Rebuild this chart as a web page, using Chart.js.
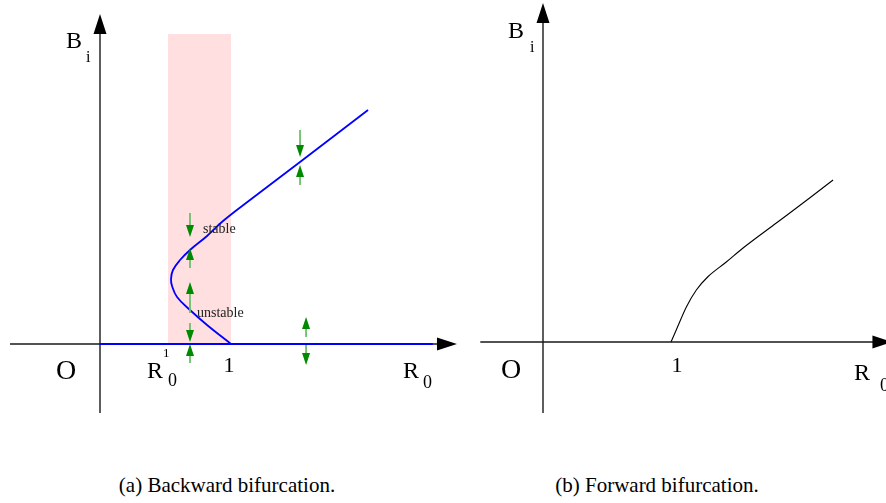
<!DOCTYPE html>
<html>
<head>
<meta charset="utf-8">
<script src="https://cdn.jsdelivr.net/npm/chart.js@4/dist/chart.umd.min.js"></script>
<style>
  html, body { margin: 0; padding: 0; background: #fff; }
  #wrap { position: relative; width: 886px; height: 503px; overflow: hidden; }
  canvas { position: absolute; top: 0; }
  #left { left: 0; }
  #right { left: 443px; }
  .caption {
    position: absolute; top: 475px; margin: 0;
    font-family: "Liberation Serif", "DejaVu Serif", serif;
    font-size: 21px; line-height: 21px; white-space: nowrap;
    transform: translateX(-50%);
  }
</style>
</head>
<body>
<div id="wrap">
  <canvas id="left" width="470" height="420"></canvas>
  <canvas id="right" width="443" height="420"></canvas>
  <p class="caption" style="left:227px">(a) Backward bifurcation.</p>
  <p class="caption" style="left:657px">(b) Forward bifurcation.</p>
</div>
<script>
// backward bifurcation branch (R0, B)
const backwardR0 = [1.0, 0.817, 0.687, 0.588, 0.550, 0.542, 0.557, 0.611, 0.687, 0.817, 0.939, 1.145, 1.527, 2.046];
const backwardB  = [0,   0.19,  0.34,  0.47,  0.58,  0.65,  0.74,  0.84,  0.94,  1.08,  1.23,  1.44,  1.82,  2.34];

// disease free equilibrium B = 0
const trivialR0 = [0, 2.54];
const trivialB  = [0, 0];

// bistable window R0^1 < R0 < 1
const bandR0  = [0.519, 1.0];
const bandTop = [3.10, 3.10];

// stability arrows: x position, tail, head
const arrowR0   = [0.687, 0.687, 0.687, 0.687, 0.687, 1.527, 1.527, 1.573, 1.573];
const arrowFrom = [1.31,  0.76,  0.31,  0.21, -0.19,  2.14,  1.59,  0.07, -0.01];
const arrowTo   = [1.07,  0.96,  0.62,  0.02,  0.00,  1.87,  1.79,  0.27, -0.21];

// forward bifurcation branch (R0, B)
const forwardR0 = [1.0, 1.041, 1.12, 1.198, 1.29, 1.432, 1.563, 1.823, 2.083, 2.266];
const forwardB  = [0,   0.12,  0.35, 0.52,  0.655, 0.80, 0.94,  1.19,  1.44,  1.62];

const pts = (xs, ys) => xs.map((v, i) => ({ x: v, y: ys[i] }));
const SERIF = '"Liberation Serif", "DejaVu Serif", serif';

// axes with arrow heads, green stability arrows and the hand placed labels
const sketchPlugin = {
  id: 'sketch',
  beforeDatasetsDraw(chart, args, opts) {
    const { ctx, scales: { x, y } } = chart;
    const x0 = x.getPixelForValue(0), y0 = y.getPixelForValue(0);
    const xa = x.getPixelForValue(opts.xAxis[0]), xb = x.getPixelForValue(opts.xAxis[1]);
    const ya = y.getPixelForValue(opts.yAxis[0]), yb = y.getPixelForValue(opts.yAxis[1]);
    const L = 20, W = 6.5;
    ctx.save();
    ctx.strokeStyle = '#1a1a1a';
    ctx.fillStyle = '#000';
    ctx.lineWidth = 1.4;
    ctx.beginPath();
    ctx.moveTo(xa, y0); ctx.lineTo(xb - L + 2, y0);
    ctx.moveTo(x0, ya); ctx.lineTo(x0, yb + L - 2);
    ctx.stroke();
    ctx.beginPath();
    ctx.moveTo(xb, y0); ctx.lineTo(xb - L, y0 - W); ctx.lineTo(xb - L, y0 + W); ctx.closePath();
    ctx.moveTo(x0, yb); ctx.lineTo(x0 - W, yb + L); ctx.lineTo(x0 + W, yb + L); ctx.closePath();
    ctx.fill();
    ctx.restore();
  },
  afterDatasetsDraw(chart, args, opts) {
    if (!opts.arrows) return;
    const { ctx, scales: { x, y } } = chart;
    const { r, from, to } = opts.arrows;
    const H = 12, W = 4;
    ctx.save();
    r.forEach((v, i) => {
      const px = x.getPixelForValue(v);
      const p1 = y.getPixelForValue(from[i]);
      const p2 = y.getPixelForValue(to[i]);
      const dir = p2 > p1 ? 1 : -1;
      ctx.strokeStyle = '#6cbf6c';
      ctx.lineWidth = 1.8;
      ctx.beginPath();
      ctx.moveTo(px, p1); ctx.lineTo(px, p2 - dir * H);
      ctx.stroke();
      ctx.fillStyle = '#008a00';
      ctx.beginPath();
      ctx.moveTo(px, p2);
      ctx.lineTo(px - W, p2 - dir * H);
      ctx.lineTo(px + W, p2 - dir * H);
      ctx.closePath();
      ctx.fill();
    });
    ctx.restore();
  },
  afterDraw(chart, args, opts) {
    const { ctx } = chart;
    ctx.save();
    opts.labels.forEach(l => {
      ctx.font = l.s + 'px ' + SERIF;
      ctx.fillStyle = l.c || '#000';
      ctx.textAlign = l.a || 'left';
      ctx.textBaseline = 'alphabetic';
      ctx.fillText(l.t, l.x, l.y);
    });
    ctx.restore();
  }
};

function baseOptions(xr, yr, sketch) {
  return {
    responsive: false,
    animation: false,
    events: [],
    layout: { padding: 0 },
    scales: {
      x: { type: 'linear', display: false, min: xr[0], max: xr[1] },
      y: { type: 'linear', display: false, min: yr[0], max: yr[1] }
    },
    plugins: { legend: { display: false }, tooltip: { enabled: false }, sketch }
  };
}

// (a) backward bifurcation
new Chart(document.getElementById('left'), {
  type: 'scatter',
  data: {
    datasets: [
      {
        data: pts(backwardR0, backwardB), showLine: true, tension: 0.4,
        borderColor: '#0000ff', borderWidth: 1.8, pointRadius: 0
      },
      {
        data: pts(trivialR0, trivialB), showLine: true,
        borderColor: '#0000ff', borderWidth: 2, pointRadius: 0
      },
      {
        data: pts(bandR0, bandTop), showLine: true, fill: 'origin', order: 10,
        backgroundColor: '#ffdfdf', borderWidth: 0, pointRadius: 0
      }
    ]
  },
  options: baseOptions([-100 / 131, 370 / 131], [-0.76, 3.44], {
    xAxis: [-0.687, 2.725],
    yAxis: [-0.69, 3.30],
    arrows: { r: arrowR0, from: arrowFrom, to: arrowTo },
    labels: [
      { t: 'B', x: 66, y: 48, s: 24 },
      { t: 'i', x: 86, y: 62, s: 16 },
      { t: 'O', x: 56, y: 379, s: 28 },
      { t: 'R', x: 147, y: 378, s: 24 },
      { t: '1', x: 163, y: 357, s: 13 },
      { t: '0', x: 168, y: 386, s: 18 },
      { t: '1', x: 229, y: 372, s: 22, a: 'center' },
      { t: 'R', x: 403, y: 378, s: 24 },
      { t: '0', x: 423, y: 388, s: 18 },
      { t: 'stable', x: 203, y: 233, s: 14, c: '#222' },
      { t: 'unstable', x: 197, y: 317, s: 14, c: '#222' }
    ]
  }),
  plugins: [sketchPlugin]
});

// (b) forward bifurcation
new Chart(document.getElementById('right'), {
  type: 'scatter',
  data: {
    datasets: [
      {
        data: pts(forwardR0, forwardB), showLine: true, cubicInterpolationMode: 'monotone',
        borderColor: '#000', borderWidth: 1.1, pointRadius: 0
      }
    ]
  },
  options: baseOptions([-100 / 128, 343 / 128], [-0.78, 3.42], {
    xAxis: [-0.49, 2.73],
    yAxis: [-0.71, 3.39],
    labels: [
      { t: 'B', x: 65, y: 38, s: 24 },
      { t: 'i', x: 87, y: 52, s: 16 },
      { t: 'O', x: 58, y: 378, s: 28 },
      { t: '1', x: 234, y: 372, s: 22, a: 'center' },
      { t: 'R', x: 411, y: 380, s: 24 },
      { t: '0', x: 437, y: 391, s: 18 }
    ]
  }),
  plugins: [sketchPlugin]
});
</script>
</body>
</html>
